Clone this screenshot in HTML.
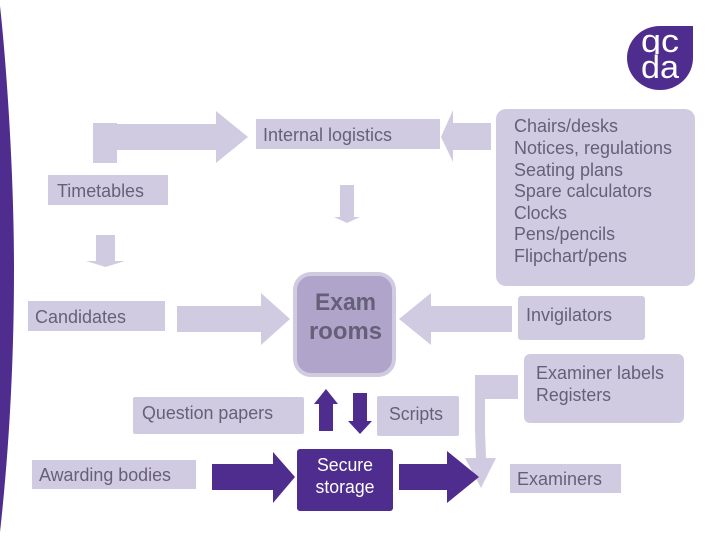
<!DOCTYPE html>
<html><head><meta charset="utf-8"><style>
html,body{margin:0;padding:0;background:#fff;width:720px;height:540px;overflow:hidden}
svg{display:block}
text{font-family:"Liberation Sans",Arial,sans-serif;font-size:18px;fill:#665f78}
.l{fill:#d1cbe2}.p{fill:#4f2d8f}
</style></head><body>
<svg width="720" height="540" viewBox="0 0 720 540" xmlns="http://www.w3.org/2000/svg">
<defs><clipPath id="qcclip"><rect x="630" y="26" width="60" height="28"/></clipPath></defs>
<rect width="720" height="540" fill="#fff"/>
<path class="p" d="M0 6 C6 60 14 170 14 270 C14 370 8 460 0 532 Z"/>
<path class="p" d="M693 26 V58 A33 32 0 1 1 660 26 Z"/>
<g clip-path="url(#qcclip)">
<text x="641" y="52" style="fill:#fff;font-size:32px" textLength="38" lengthAdjust="spacingAndGlyphs">qc</text>
</g>
<text x="641" y="78" style="fill:#fff;font-size:32px" textLength="38" lengthAdjust="spacingAndGlyphs">da</text>
<rect class="l" x="93" y="123" width="24" height="40"/>
<polygon class="l" points="117,124 216,124 216,111 248,137 216,163 216,150 117,150"/>
<rect class="l" x="256" y="119" width="184" height="30"/>
<text x="263" y="141" textLength="129" lengthAdjust="spacingAndGlyphs">Internal logistics</text>
<polygon class="l" points="491,123 453,123 453,110 441,137 453,162 453,150 491,150"/>
<rect class="l" x="496" y="109" width="199" height="177" rx="10"/>
<text x="514" y="132" textLength="104" lengthAdjust="spacingAndGlyphs">Chairs/desks</text>
<text x="514" y="154" textLength="158" lengthAdjust="spacingAndGlyphs">Notices, regulations</text>
<text x="514" y="176" textLength="109" lengthAdjust="spacingAndGlyphs">Seating plans</text>
<text x="514" y="197" textLength="138" lengthAdjust="spacingAndGlyphs">Spare calculators</text>
<text x="514" y="219" textLength="53" lengthAdjust="spacingAndGlyphs">Clocks</text>
<text x="514" y="240" textLength="101" lengthAdjust="spacingAndGlyphs">Pens/pencils</text>
<text x="514" y="262" textLength="113" lengthAdjust="spacingAndGlyphs">Flipchart/pens</text>
<rect class="l" x="48" y="175" width="120" height="30"/>
<text x="57" y="197" textLength="87" lengthAdjust="spacingAndGlyphs">Timetables</text>
<polygon class="l" points="340,185 354,185 354,217 360,217 347,223 334,217 340,217"/>
<polygon class="l" points="96,235 115,235 115,261 125,261 105.5,267 86,261 96,261"/>
<rect class="l" x="28" y="301" width="137" height="30"/>
<text x="35" y="323" textLength="91" lengthAdjust="spacingAndGlyphs">Candidates</text>
<polygon class="l" points="177,306 261,306 261,293 290,319 261,345 261,332 177,332"/>
<rect x="295" y="274" width="99" height="101" rx="16" fill="#b0a4cb" stroke="#d1cbe2" stroke-width="4"/>
<text x="345.5" y="310" text-anchor="middle" style="font-size:24px;font-weight:bold" textLength="61" lengthAdjust="spacingAndGlyphs">Exam</text>
<text x="345.5" y="339" text-anchor="middle" style="font-size:24px;font-weight:bold" textLength="73" lengthAdjust="spacingAndGlyphs">rooms</text>
<polygon class="l" points="512,306 431,306 431,293 399,319 431,345 431,332 512,332"/>
<rect class="l" x="518" y="296" width="127" height="44" rx="3"/>
<text x="526" y="321" textLength="86" lengthAdjust="spacingAndGlyphs">Invigilators</text>
<rect class="l" x="524" y="354" width="160" height="69" rx="6"/>
<text x="536" y="379" textLength="128" lengthAdjust="spacingAndGlyphs">Examiner labels</text>
<text x="536" y="401" textLength="75" lengthAdjust="spacingAndGlyphs">Registers</text>
<polygon class="l" points="518,375 475,375 475,430 476,458 465,458 481,488 496,458 486,458 485,430 485,399 518,399"/>
<rect class="l" x="133" y="397" width="171" height="37" rx="2"/>
<text x="142" y="419" textLength="131" lengthAdjust="spacingAndGlyphs">Question papers</text>
<polygon class="p" points="326,389 338,404 333,404 333,431 319,431 319,404 314,404"/>
<polygon class="p" points="353,393 367,393 367,421 372,421 360,434 348,421 353,421"/>
<rect class="l" x="377" y="396" width="82" height="40" rx="2"/>
<text x="389" y="420" textLength="54" lengthAdjust="spacingAndGlyphs">Scripts</text>
<rect class="l" x="32" y="460" width="164" height="29"/>
<text x="39" y="481" textLength="132" lengthAdjust="spacingAndGlyphs">Awarding bodies</text>
<polygon class="p" points="212,464 273,464 273,452 295,477 273,503 273,490 212,490"/>
<rect class="p" x="297" y="449" width="96" height="62" rx="3"/>
<text x="345" y="471" text-anchor="middle" style="fill:#fff" textLength="56" lengthAdjust="spacingAndGlyphs">Secure</text>
<text x="345" y="493" text-anchor="middle" style="fill:#fff" textLength="59" lengthAdjust="spacingAndGlyphs">storage</text>
<polygon class="p" points="399,464 447,464 447,451 479,477 447,503 447,490 399,490"/>
<rect class="l" x="510" y="464" width="111" height="29"/>
<text x="517" y="485" textLength="85" lengthAdjust="spacingAndGlyphs">Examiners</text>
</svg>
</body></html>
